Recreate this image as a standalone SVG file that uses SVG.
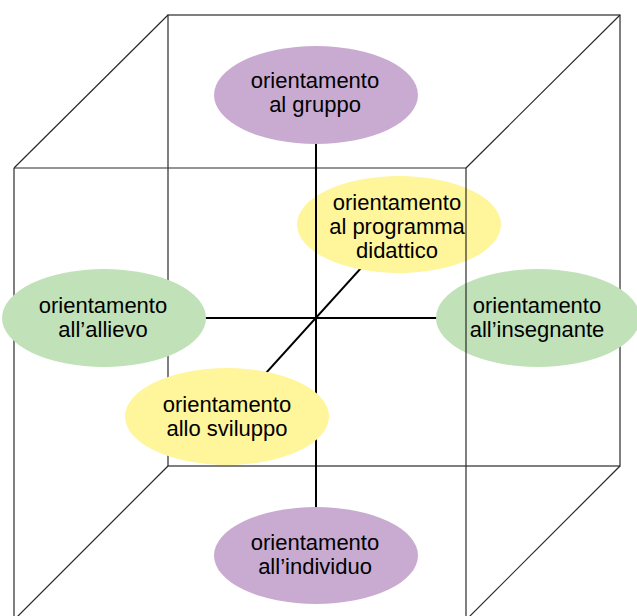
<svg xmlns="http://www.w3.org/2000/svg" width="637" height="616" viewBox="0 0 637 616">
  <style>
    .cube { fill: none; stroke: #2a2a2a; stroke-width: 1.2; }
    .axis { fill: none; stroke: #000; stroke-width: 2; }
    .purple { fill: #C9ABD1; }
    .green { fill: #C1E1B9; }
    .yellow { fill: #FFF59B; }
    text { font-family: "Liberation Sans", Arial, sans-serif; font-size: 22px; fill: #000; text-anchor: middle; }
  </style>
  <rect width="637" height="616" fill="#fff"/>
  <g id="cube-back">
    <rect class="cube" x="168" y="15" width="452" height="451"/>
    <line class="cube" x1="14" y1="168" x2="168" y2="15"/>
    <line class="cube" x1="466" y1="168" x2="620" y2="15"/>
    <line class="cube" x1="168" y1="466" x2="14" y2="620"/>
    <line class="cube" x1="620" y1="466" x2="466" y2="620"/>
    <line class="cube" x1="14" y1="168" x2="466" y2="168"/>
    <line class="cube" x1="14" y1="168" x2="14" y2="620"/>
  </g>
  <g id="connectors">
    <line class="axis" x1="227" y1="416" x2="400" y2="225"/>
  </g>
  <g id="node-programma">
    <ellipse class="yellow" cx="399" cy="224.5" rx="102" ry="48.5"/>
  </g>
  <g id="connectors-axes">
    <line class="axis" x1="316" y1="95" x2="316" y2="555"/>
    <line class="axis" x1="104" y1="318" x2="538" y2="318"/>
  </g>
  <g id="node-programma-text">
    <text x="397" y="210">orientamento</text>
    <text x="397" y="234">al programma</text>
    <text x="397" y="258">didattico</text>
  </g>
  <g id="node-gruppo">
    <ellipse class="purple" cx="316" cy="95" rx="102" ry="49"/>
    <text x="315" y="88">orientamento</text>
    <text x="315" y="112">al gruppo</text>
  </g>
  <g id="node-allievo">
    <ellipse class="green" cx="104" cy="318" rx="102" ry="49"/>
    <text x="103" y="313">orientamento</text>
    <text x="103" y="337">all’allievo</text>
  </g>
  <g id="node-insegnante">
    <ellipse class="green" cx="538" cy="318" rx="102" ry="49"/>
    <text x="537" y="313">orientamento</text>
    <text x="537" y="337">all’insegnante</text>
  </g>
  <g id="node-sviluppo">
    <ellipse class="yellow" cx="227" cy="416.5" rx="102" ry="48.5"/>
    <text x="227" y="412">orientamento</text>
    <text x="227" y="436">allo sviluppo</text>
  </g>
  <g id="node-individuo">
    <ellipse class="purple" cx="316" cy="555.5" rx="102" ry="48.5"/>
    <text x="315" y="550">orientamento</text>
    <text x="315" y="574">all’individuo</text>
  </g>
  <g id="cube-front">
    <line class="cube" x1="466" y1="168" x2="466" y2="620"/>
  </g>
</svg>
